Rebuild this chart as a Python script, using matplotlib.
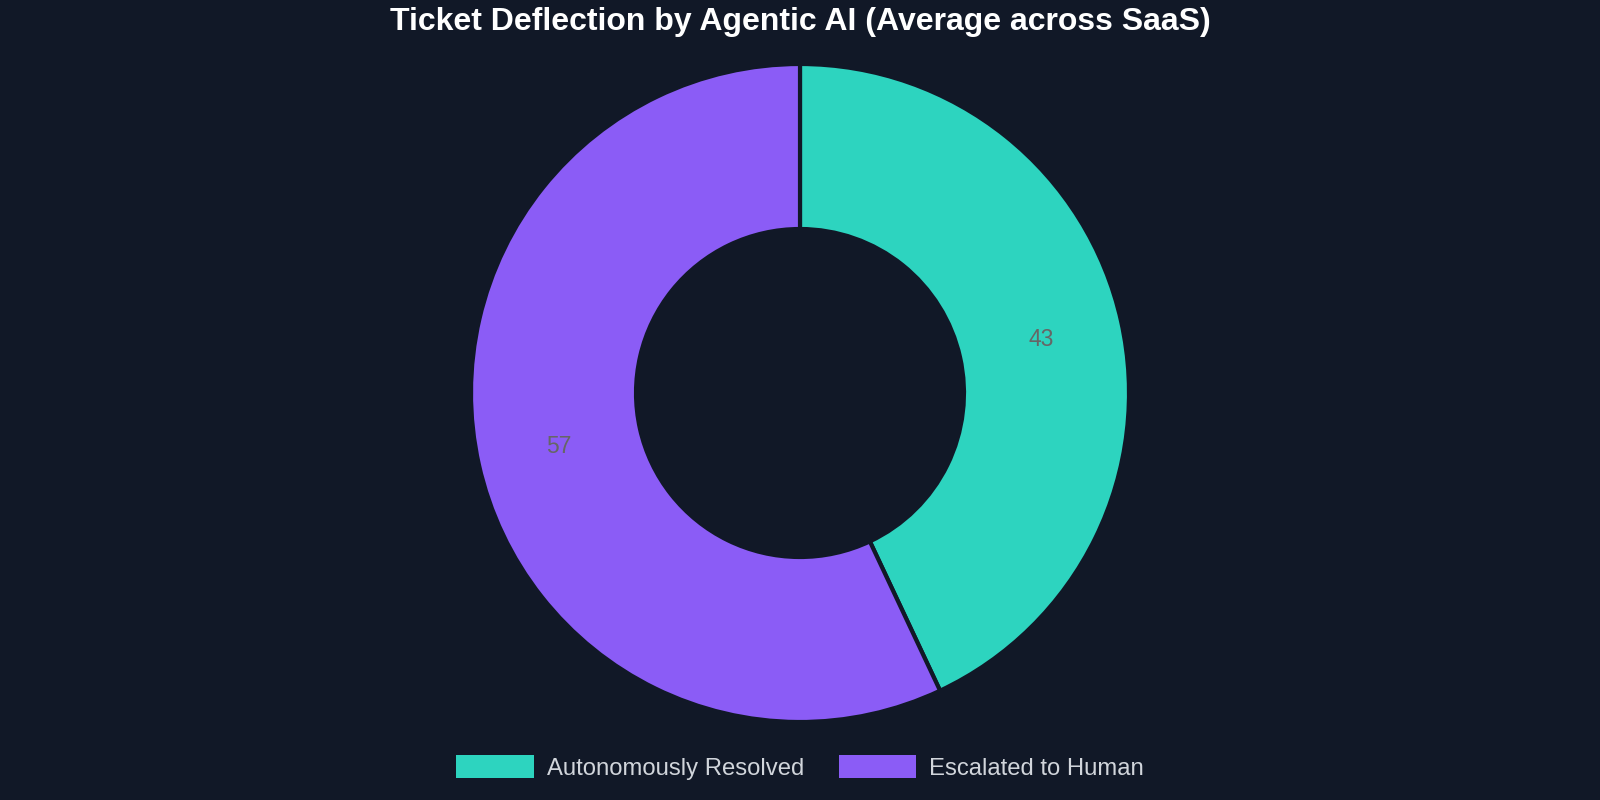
import matplotlib as mpl; mpl.use("Agg")
import matplotlib.pyplot as plt

labels = ["Autonomously Resolved", "Escalated to Human"]
values = [43, 57]
colors = ["#2DD4BF", "#8B5CF6"]
BG = "#111827"

mpl.rcParams.update({"font.family": ["Liberation Sans", "DejaVu Sans"]})

fig = plt.figure(figsize=(16, 8), dpi=100, facecolor=BG)
ax = fig.add_axes([0, 0, 1, 1])
ax.set_facecolor(BG)
ax.set_xlim(0, 1600); ax.set_ylim(0, 800); ax.set_aspect("equal"); ax.axis("off")

total = sum(values)
wedges, _, autotexts = ax.pie(
    values, colors=colors, startangle=90, counterclock=False,
    center=(800, 407), radius=329, pctdistance=0.75,
    autopct=lambda p: f"{p * total / 100:.0f}",
    wedgeprops=dict(width=165, edgecolor=BG, linewidth=3),
    textprops=dict(color="#666666", fontsize=16.5),
)
ax.set_xlim(0, 1600); ax.set_ylim(0, 800)

fig.text(0.5, 0.973, "Ticket Deflection by Agentic AI (Average across SaaS)",
         ha="center", va="center", fontsize=23, fontweight="bold", color="white")

leg = fig.legend(wedges, labels, loc="center", bbox_to_anchor=(0.5, 0.041), ncol=2,
                 frameon=False, fontsize=17.2, handlelength=3.25, handleheight=1.15,
                 columnspacing=1.45, handletextpad=0.55)
for t in leg.get_texts():
    t.set_color("#D1D5DB")
for h in leg.legend_handles:
    h.set_edgecolor("none")

fig.savefig("out.png", facecolor=BG)
